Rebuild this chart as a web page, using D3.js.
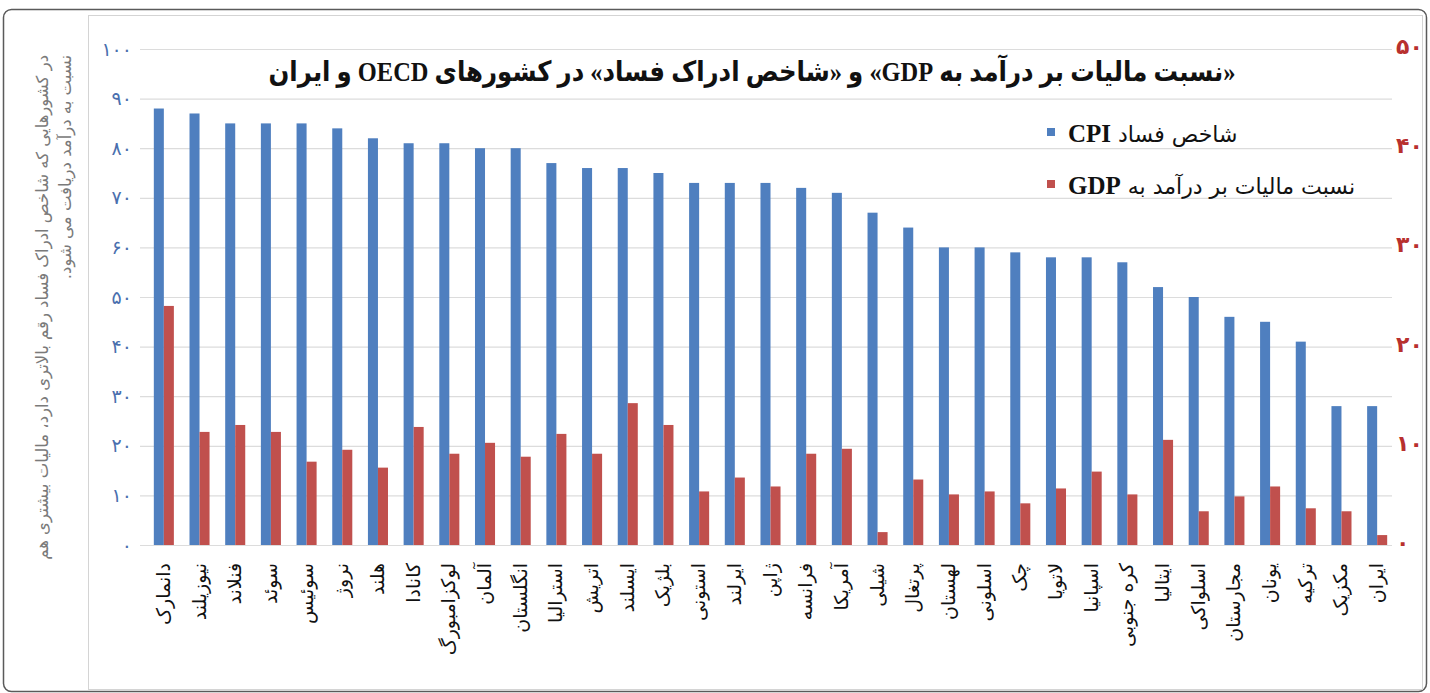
<!DOCTYPE html>
<html lang="fa">
<head>
<meta charset="utf-8">
<script src="https://d3js.org/d3.v7.min.js"></script>
<style>
body { margin: 0; background: #fff; }
text { font-family: "DejaVu Sans", sans-serif; }
</style>
</head>
<body>
<script>
// data
var countries = ["دانمارک", "نیوزیلند", "فنلاند", "سوئد", "سوئیس", "نروژ", "هلند", "کانادا", "لوکزامبورگ",
	"آلمان", "انگلستان", "استرالیا", "اتریش", "ایسلند", "بلژیک", "استونی", "ایرلند", "ژاپن", "فرانسه",
	"آمریکا", "شیلی", "پرتغال", "لهستان", "اسلونی", "چک", "لاتویا", "اسپانیا", "کره جنوبی", "ایتالیا",
	"اسلواکی", "مجارستان", "یونان", "ترکیه", "مکزیک", "ایران"];
var cpi = [88, 87, 85, 85, 85, 84, 82, 81, 81, 80, 80, 77, 76, 76, 75, 73, 73, 73, 72, 71, 67, 64, 60,
	60, 59, 58, 58, 57, 52, 50, 46, 45, 41, 28, 28];
var taxGdp = [24.1, 11.4, 12.1, 11.4, 8.4, 9.6, 7.8, 11.9, 9.2, 10.3, 8.9, 11.2, 9.2, 14.3, 12.1, 5.4, 6.8,
	5.9, 9.2, 9.7, 1.3, 6.6, 5.1, 5.4, 4.2, 5.7, 7.4, 5.1, 10.6, 3.4, 4.9, 5.9, 3.7, 3.4, 1.0];
var leftTicks = [0, 10, 20, 30, 40, 50, 60, 70, 80, 90, 100];
var rightTicks = [0, 10, 20, 30, 40, 50];
var seriesNames = ["شاخص فساد ", "نسبت مالیات بر درآمد به "];
var seriesTags = ["CPI", "GDP"];
var title = "«نسبت مالیات بر درآمد به GDP» و «شاخص ادراک فساد» در کشورهای OECD و ایران";
var sideNote = ["در کشورهایی که شاخص ادراک فساد رقم بالاتری دارد، مالیات بیشتری هم",
	"نسبت به درآمد دریافت می شود."];

var blue = "#4f7fbf", red = "#c0504d";

function persian(n) {
	return String(n).replace(/[0-9]/g, function (d) { return "۰۱۲۳۴۵۶۷۸۹"[+d]; });
}

var data = countries.map(function (c, i) { return {name: c, cpi: cpi[i], tax: taxGdp[i]}; });

var svg = d3.select("body").append("svg")
	.attr("width", 1430)
	.attr("height", 693);

// frames
svg.append("rect").attr("x", 3.5).attr("y", 9.5).attr("width", 1423).attr("height", 682)
	.attr("rx", 8).attr("fill", "#fff").attr("stroke", "#5a5a5a").attr("stroke-width", 1.5);
svg.append("rect").attr("x", 88.5).attr("y", 15.5).attr("width", 1334).attr("height", 674)
	.attr("fill", "none").attr("stroke", "#d4d4d4");

var x = d3.scaleBand().domain(countries).range([146, 1395]).padding(0);
var x1 = d3.scaleBand().domain(["cpi", "tax"]).range([0, x.bandwidth()]).paddingOuter(0.78);
var y = d3.scaleLinear().domain([0, 100]).range([545, 49]);
var y2 = d3.scaleLinear().domain([0, 50]).range([545, 49]);

// grid
svg.append("g").selectAll("line").data(leftTicks).enter().append("line")
	.attr("x1", 140).attr("x2", 1392)
	.attr("y1", function (d) { return y(d) + 0.5; })
	.attr("y2", function (d) { return y(d) + 0.5; })
	.attr("stroke", "#dcdcdc").attr("stroke-width", 1.2);

// left axis
var ya = svg.append("g").attr("transform", "translate(132,0)")
	.call(d3.axisLeft(y).tickValues(leftTicks).tickSize(0).tickPadding(0).tickFormat(persian));
ya.select(".domain").remove();
ya.selectAll("text").attr("fill", "#4a6fae").style("font-size", "19px");

// right axis
var yb = svg.append("g").attr("transform", "translate(1396,0)")
	.call(d3.axisRight(y2).tickValues(rightTicks).tickSize(0).tickPadding(0).tickFormat(persian));
yb.select(".domain").remove();
yb.selectAll("text").attr("fill", "#b8302e").style("font-size", "22px").style("font-weight", "bold")
	.attr("dy", "0.2em");

// bars
var groups = svg.append("g").selectAll("g").data(data).enter().append("g")
	.attr("transform", function (d) { return "translate(" + x(d.name) + ",0)"; });
groups.append("rect")
	.attr("x", x1("cpi")).attr("width", x1.bandwidth())
	.attr("y", function (d) { return y(d.cpi); })
	.attr("height", function (d) { return y(0) - y(d.cpi); })
	.attr("fill", blue);
groups.append("rect")
	.attr("x", x1("tax")).attr("width", x1.bandwidth())
	.attr("y", function (d) { return y2(d.tax); })
	.attr("height", function (d) { return y2(0) - y2(d.tax); })
	.attr("fill", red);

// x labels
svg.append("g").selectAll("text").data(countries).enter().append("text")
	.attr("transform", function (d) { return "translate(" + (x(d) + x.bandwidth() / 2 + 6) + ",563) rotate(-90)"; })
	.attr("direction", "rtl")
	.attr("text-anchor", "start")
	.style("font-size", "19px")
	.attr("fill", "#111")
	.text(function (d) { return d; });

// title
svg.append("text")
	.attr("x", 752).attr("y", 81)
	.attr("direction", "rtl")
	.attr("text-anchor", "middle")
	.attr("textLength", 967)
	.attr("lengthAdjust", "spacingAndGlyphs")
	.style("font-family", "'Liberation Serif', 'DejaVu Sans', serif")
	.style("font-size", "28px").style("font-weight", "bold")
	.attr("fill", "#111")
	.text(title);

// legend
var legend = svg.append("g").selectAll("g").data([blue, red]).enter().append("g")
	.attr("transform", function (d, i) { return "translate(1047," + (142 + i * 52) + ")"; });
legend.append("rect").attr("x", 0).attr("y", -14).attr("width", 8).attr("height", 8)
	.attr("fill", function (d) { return d; });
var lt = legend.append("text")
	.attr("x", 21).attr("y", 0)
	.attr("direction", "rtl")
	.attr("text-anchor", "end")
	.style("font-size", "22px")
	.attr("fill", "#111");
lt.append("tspan").text(function (d, i) { return seriesNames[i]; });
lt.append("tspan")
	.style("font-family", "'Liberation Serif', serif").style("font-weight", "bold").style("font-size", "25px")
	.text(function (d, i) { return seriesTags[i]; });

// side note
svg.append("g").selectAll("text").data(sideNote).enter().append("text")
	.attr("transform", function (d, i) { return "translate(" + (48 + i * 23) + ",55) rotate(-90)"; })
	.attr("direction", "rtl")
	.attr("text-anchor", "start")
	.style("font-size", "16.5px")
	.attr("fill", "#7a7a7a")
	.text(function (d) { return d; });
</script>
</body>
</html>
